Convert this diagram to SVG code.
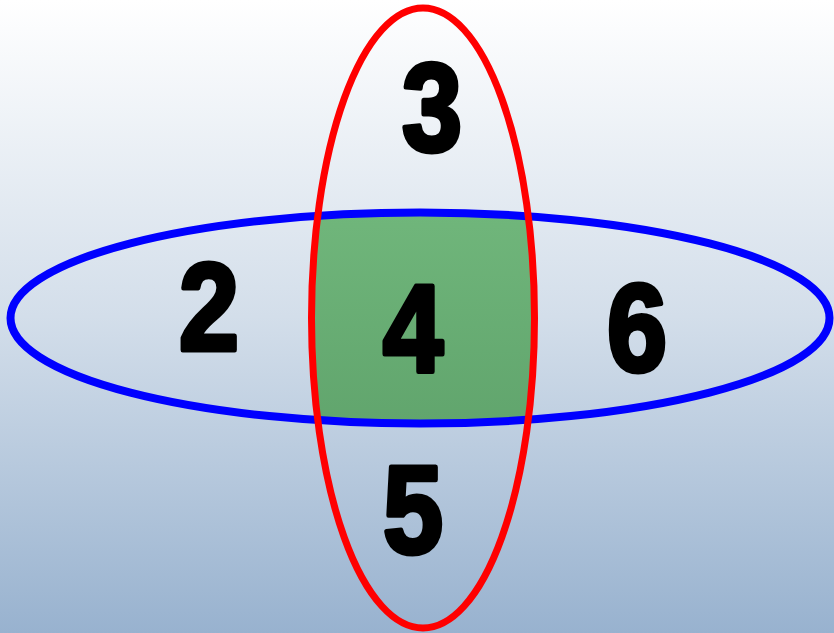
<svg xmlns="http://www.w3.org/2000/svg" width="834" height="633" viewBox="0 0 834 633">
  <defs>
    <linearGradient id="bg" x1="0" y1="0" x2="0" y2="1">
      <stop offset="0" stop-color="#ffffff"/>
      <stop offset="0.5" stop-color="#d3deea"/>
      <stop offset="1" stop-color="#98b2cf"/>
    </linearGradient>
    <linearGradient id="green" x1="0" y1="0" x2="0" y2="1">
      <stop offset="0" stop-color="#70b67b"/>
      <stop offset="1" stop-color="#61a56d"/>
    </linearGradient>
    <clipPath id="redClip">
      <ellipse cx="423" cy="318" rx="111.5" ry="310"/>
    </clipPath>
    <style>
      .num { font-family: "Liberation Sans", Arial, sans-serif; font-weight: bold; font-size: 124px; fill: #000; stroke: #000; stroke-width: 5; stroke-linejoin: round; text-anchor: middle; }
    </style>
  </defs>
  <rect width="834" height="633" fill="url(#bg)"/>
  <g id="intersection">
    <ellipse cx="420" cy="318" rx="409.5" ry="105.5" fill="url(#green)" clip-path="url(#redClip)"/>
  </g>
  <g id="connectors">
    <ellipse id="blue-ellipse" cx="420" cy="318" rx="409.5" ry="105.5" fill="none" stroke="#0000ff" stroke-width="8"/>
    <ellipse id="red-ellipse" cx="423" cy="318" rx="111.5" ry="310" fill="none" stroke="#ff0000" stroke-width="7"/>
  </g>
  <g id="n3" transform="translate(432,151) scale(0.87,1)"><text class="num" x="0" y="0">3</text></g>
  <g id="n2" transform="translate(209,350) scale(0.87,1)"><text class="num" x="0" y="0">2</text></g>
  <g id="n4" transform="translate(413,371) scale(0.87,1)"><text class="num" x="0" y="0">4</text></g>
  <g id="n6" transform="translate(637,371) scale(0.87,1)"><text class="num" x="0" y="0">6</text></g>
  <g id="n5" transform="translate(413,553) scale(0.87,1)"><text class="num" x="0" y="0">5</text></g>
</svg>
